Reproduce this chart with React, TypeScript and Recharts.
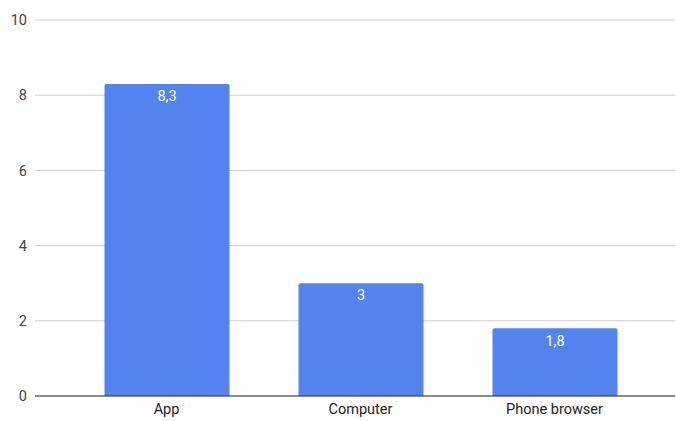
import React from 'react';
import { BarChart, Bar, XAxis, YAxis, CartesianGrid, LabelList } from 'recharts';

const categories = ['App', 'Computer', 'Phone browser'];
const values = [8.3, 3, 1.8];
const yTicks = [0, 2, 4, 6, 8, 10];

const data = categories.map((name, i) => ({ name, value: values[i] }));

const fmt = (v: number) => String(v).replace('.', ',');

const App: React.FC = () => {
  return (
    <div style={{ position: 'absolute', left: 0, top: 0, width: 676, height: 421, background: '#fff' }}>
      <BarChart
        width={676}
        height={421}
        data={data}
        margin={{ top: 20, right: 1, bottom: 0, left: 0 }}
        style={{ fontFamily: 'Roboto, Arial, sans-serif' }}
      >
        <CartesianGrid vertical={false} stroke="#cccccc" />
        <XAxis
          dataKey="name"
          height={25}
          padding={{ left: 34.5, right: 23.5 }}
          tickLine={false}
          axisLine={{ stroke: '#333333' }}
          tick={{ fill: '#222222', fontSize: 14.5 }}
        />
        <YAxis
          width={35}
          domain={[0, 10]}
          ticks={yTicks}
          axisLine={false}
          tickLine={false}
          tick={{ fill: '#444444', fontSize: 14.5 }}
        />
        <Bar dataKey="value" fill="#5384ED" barSize={125} radius={[2, 2, 0, 0]} isAnimationActive={false}>
          <LabelList
            dataKey="value"
            position="insideTop"
            offset={7}
            fill="#ffffff"
            fontSize={14.5}
            formatter={(v: number) => fmt(v)}
          />
        </Bar>
      </BarChart>
    </div>
  );
};

export default App;
